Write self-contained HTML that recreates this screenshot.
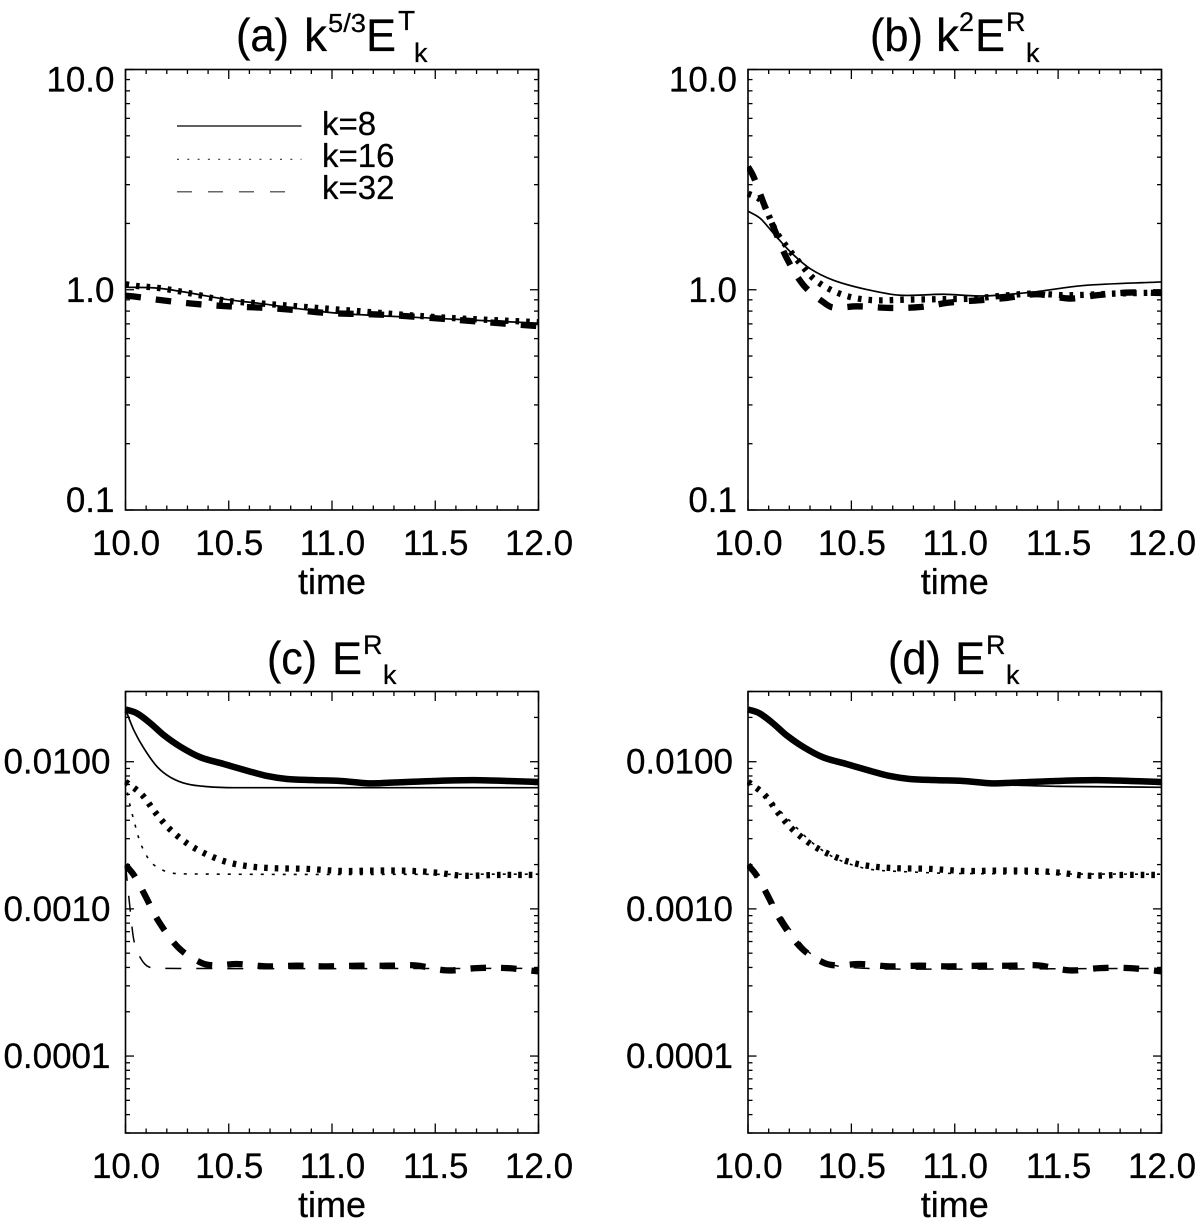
<!DOCTYPE html>
<html lang="en">
<head>
<meta charset="utf-8">
<title>Energy spectra time series</title>
<style>
html,body{margin:0;padding:0;background:#fff;}
svg{display:block;}
text{font-family:"Liberation Sans",sans-serif;fill:#000;stroke:#000;stroke-width:0.25px;}
</style>
</head>
<body>
<svg id="figure" xmlns="http://www.w3.org/2000/svg" width="1200" height="1219" viewBox="0 0 1200 1219">
  <rect x="0" y="0" width="1200" height="1219" fill="#fff"/>
  <g>
    <text x="236" y="51" font-size="46" textLength="53" lengthAdjust="spacingAndGlyphs">(a)</text><text x="304" y="51" font-size="46">k</text><text x="328" y="32" font-size="26" textLength="38" lengthAdjust="spacingAndGlyphs">5/3</text><text x="366" y="51" font-size="45">E</text><text x="398" y="30" font-size="28">T</text><text x="414" y="62" font-size="27">k</text>
  </g>
  <g>
    <text x="870" y="51" font-size="46" textLength="53" lengthAdjust="spacingAndGlyphs">(b)</text><text x="936" y="51" font-size="46">k</text><text x="959" y="31" font-size="27">2</text><text x="975" y="51" font-size="45">E</text><text x="1006" y="31" font-size="27">R</text><text x="1026" y="62" font-size="27">k</text>
  </g>
  <g>
    <text x="267" y="674" font-size="46" textLength="50" lengthAdjust="spacingAndGlyphs">(c)</text><text x="332" y="674" font-size="45">E</text><text x="363" y="654" font-size="27">R</text><text x="383" y="684" font-size="27">k</text>
  </g>
  <g>
    <text x="888" y="674" font-size="46" textLength="53" lengthAdjust="spacingAndGlyphs">(d)</text><text x="955" y="674" font-size="45">E</text><text x="986" y="654" font-size="27">R</text><text x="1006" y="684" font-size="27">k</text>
  </g>
  <g>
    <line x1="177" y1="126" x2="301.500" y2="126" stroke="#000" stroke-width="1.200"/>
    <line x1="177" y1="159.300" x2="301.500" y2="159.300" stroke="#333" stroke-width="1.200" stroke-dasharray="2 8.300"/>
    <line x1="177" y1="191.700" x2="287" y2="191.700" stroke="#666" stroke-width="1.500" stroke-dasharray="15 16"/>
    <text x="322" y="135" font-size="33">k=8</text>
    <text x="322" y="167" font-size="33">k=16</text>
    <text x="322" y="199" font-size="33">k=32</text>
  </g>
</svg>
<script>
// Tick labels
var xTickLabels = ['10.0', '10.5', '11.0', '11.5', '12.0'];
var yLabelsTop = ['10.0', '1.0', '0.1'];
var yLabelsBottom = ['0.0100', '0.0010', '0.0001'];

// Panel (a)
var aSolidT = [10, 10.16, 10.32, 10.484, 10.645, 11.017, 11.5, 12];
var aSolidV = [1.027, 1.016, 0.964, 0.905, 0.868, 0.784, 0.742, 0.705];
var aDottedT = [10, 10.056, 10.16, 10.32, 10.484, 10.645, 11.017, 11.5, 12];
var aDottedV = [1.06, 1.04, 1.019, 0.961, 0.893, 0.868, 0.815, 0.752, 0.712];
var aDashedT = [10, 10.032, 10.177, 10.322, 10.5, 10.685, 10.835, 10.976, 11.25, 11.5, 12];
var aDashedV = [0.94, 0.934, 0.896, 0.865, 0.841, 0.827, 0.807, 0.784, 0.77, 0.742, 0.683];

// Panel (b)
var bSolidT = [10, 10.06, 10.124, 10.205, 10.3, 10.414, 10.575, 10.736, 10.945, 11.138, 11.38, 11.62, 12];
var bSolidV = [2.275, 2.106, 1.80, 1.486, 1.248, 1.104, 1.002, 0.944, 0.954, 0.937, 0.977, 1.045, 1.085];
var bDottedT = [10, 10.068, 10.132, 10.188, 10.253, 10.317, 10.398, 10.494, 10.607, 10.768, 10.929, 11.09, 11.219, 11.38, 11.54, 11.78, 12];
var bDottedV = [2.737, 2.507, 1.864, 1.566, 1.315, 1.124, 1.002, 0.928, 0.896, 0.902, 0.906, 0.912, 0.937, 0.961, 0.944, 0.961, 0.971];
var bDashedT = [10, 10.027, 10.076, 10.132, 10.188, 10.269, 10.374, 10.414, 10.527, 10.688, 10.833, 10.977, 11.122, 11.251, 11.396, 11.557, 11.686, 11.839, 12];
var bDashedV = [3.62, 3.26, 2.465, 1.84, 1.387, 1.048, 0.865, 0.83, 0.841, 0.827, 0.835, 0.875, 0.896, 0.918, 0.954, 0.912, 0.944, 0.971, 0.967];

// Panels (c) and (d): thick curves
var thickSolidT = [10, 10.056, 10.121, 10.185, 10.266, 10.363, 10.476, 10.589, 10.685, 10.782, 10.911, 11.04, 11.169, 11.218, 11.33, 11.49, 11.685, 11.847, 12];
var thickSolidV = [0.02267, 0.0213, 0.01823, 0.01517, 0.01264, 0.01071, 0.00965, 0.00869, 0.008, 0.00763, 0.0075, 0.0074, 0.00714, 0.00714, 0.00725, 0.0074, 0.0075, 0.0074, 0.00728];
var thickDottedT = [10, 10.081, 10.145, 10.21, 10.298, 10.387, 10.492, 10.605, 10.718, 10.879, 11.04, 11.2, 11.33, 11.427, 11.524, 11.637, 11.798, 12];
var thickDottedV = [0.00732, 0.00594, 0.00451, 0.00353, 0.00279, 0.00237, 0.00208, 0.00194, 0.00189, 0.00187, 0.00181, 0.00182, 0.00182, 0.0018, 0.00175, 0.00168, 0.0017, 0.0017];
var thickDashedT = [10, 10.04, 10.089, 10.161, 10.258, 10.363, 10.427, 10.54, 10.685, 10.83, 10.976, 11.137, 11.266, 11.403, 11.556, 11.702, 11.847, 12];
var thickDashedV = [0.00199, 0.0017, 0.00128, 0.00082, 0.000542, 0.000433, 0.000413, 0.000422, 0.000407, 0.000411, 0.000407, 0.000411, 0.000411, 0.000413, 0.000382, 0.000396, 0.000396, 0.000376];

// Panel (c): thin curves
var cSolidT = [10, 10.04, 10.089, 10.153, 10.218, 10.298, 10.395, 10.524, 12];
var cSolidV = [0.02267, 0.01641, 0.01233, 0.00925, 0.00783, 0.00706, 0.00677, 0.00666, 0.00666];
var cDottedT = [10, 10.016, 10.04, 10.073, 10.121, 10.185, 10.266, 12];
var cDottedV = [0.00732, 0.0055, 0.00402, 0.00279, 0.0021, 0.00182, 0.00173, 0.00172];
var cDashedT = [10, 10.016, 10.04, 10.073, 10.113, 10.185, 12];
var cDashedV = [0.00199, 0.00121, 0.000617, 0.000463, 0.000403, 0.000394, 0.000394];

// Panel (d): thin curves
var dSolidT = [10, 10.1, 10.2, 10.3, 10.4, 10.5, 10.6, 10.7, 10.8, 11, 11.2, 11.5, 12];
var dSolidV = [0.0226, 0.019, 0.0153, 0.0122, 0.0104, 0.0095, 0.0086, 0.0079, 0.0075, 0.0072, 0.007, 0.0068, 0.0067];
var dDottedT = [10, 10.1, 10.2, 10.3, 10.4, 10.5, 10.6, 10.8, 11, 12];
var dDottedV = [0.0073, 0.0055, 0.004, 0.0029, 0.0023, 0.002, 0.00185, 0.00178, 0.00174, 0.00172];
var dDashedT = [10, 10.1, 10.2, 10.3, 10.4, 10.5, 10.7, 12];
var dDashedV = [0.00199, 0.00125, 0.00074, 0.0005, 0.00042, 0.0004, 0.00039, 0.000394];

var NS = 'http://www.w3.org/2000/svg';
var svg = document.getElementById('figure');

function make(tag, attrs, parent) {
  var el = document.createElementNS(NS, tag);
  for (var k in attrs) { el.setAttribute(k, attrs[k]); }
  parent.appendChild(el);
  return el;
}

function smoothPath(pts) {
  var d = 'M' + pts[0][0].toFixed(2) + ' ' + pts[0][1].toFixed(2);
  for (var i = 0; i < pts.length - 1; i++) {
    var p0 = pts[Math.max(i - 1, 0)], p1 = pts[i], p2 = pts[i + 1], p3 = pts[Math.min(i + 2, pts.length - 1)];
    var seg = p2[0] - p1[0];
    var m1 = (p2[1] - p0[1]) / ((p2[0] - p0[0]) || 1);
    var m2 = (p3[1] - p1[1]) / ((p3[0] - p1[0]) || 1);
    d += 'C' + (p1[0] + seg / 3).toFixed(2) + ' ' + (p1[1] + m1 * seg / 3).toFixed(2) + ' ' +
      (p2[0] - seg / 3).toFixed(2) + ' ' + (p2[1] - m2 * seg / 3).toFixed(2) + ' ' +
      p2[0].toFixed(2) + ' ' + p2[1].toFixed(2);
  }
  return d;
}

var STYLES = {
  thickSolid: { w: 6.5, dash: 'none' },
  thickDotted: { w: 6.3, dash: '3.6 7' },
  thickDashed: { w: 6.3, dash: '15.5 15' },
  thinSolid: { w: 1.7, dash: 'none' },
  thinDotted: { w: 1.6, dash: '3 8' },
  thinDashed: { w: 1.5, dash: '16 15' }
};

function drawPanel(cfg) {
  var g = make('g', {}, svg);
  
  

  function xScale(t) { return cfg.left + (t - 10) / 2 * (cfg.right - cfg.left); }
  function yScale(v) {
    return cfg.bottom - (Math.log10(v) - Math.log10(cfg.vMin)) /
      (Math.log10(cfg.vMax) - Math.log10(cfg.vMin)) * (cfg.bottom - cfg.top);
  }

  var clip = make('clipPath', { id: 'clip-' + cfg.id }, g);
  make('rect', { x: cfg.left - 1, y: cfg.top, width: cfg.right - cfg.left + 1.5, height: cfg.bottom - cfg.top }, clip);

  // curves
  cfg.series.forEach(function (s) {
    var st = STYLES[s.style];
    var pts = s.t.map(function (t, i) { return [xScale(t), yScale(s.v[i])]; });
    var p = make('path', {
      d: smoothPath(pts), fill: 'none', stroke: '#000',
      'stroke-width': st.w, 'stroke-dasharray': st.dash,
      'clip-path': 'url(#clip-' + cfg.id + ')'
    }, g);
    
    
  });

  // frame
  var frame = make('rect', {
    x: cfg.left, y: cfg.top, width: cfg.right - cfg.left, height: cfg.bottom - cfg.top,
    fill: 'none', stroke: '#000', 'stroke-width': 1.6
  }, g);
  
  

  // x ticks
  var xAxis = make('g', { stroke: '#000', 'stroke-width': 1.3 }, g);
  
  
  for (var i = 0; i <= 20; i++) {
    var tv = 10 + i * 0.1;
    var len = i % 5 === 0 ? 9.5 : 4.5;
    var px = xScale(tv);
    make('line', { x1: px, x2: px, y1: cfg.bottom, y2: cfg.bottom - len }, xAxis);
    make('line', { x1: px, x2: px, y1: cfg.top, y2: cfg.top + len }, xAxis);
  }

  // y ticks
  var yAxis = make('g', { stroke: '#000', 'stroke-width': 1.3 }, g);
  
  
  var eMin = Math.floor(Math.log10(cfg.vMin) + 1e-9), eMax = Math.ceil(Math.log10(cfg.vMax) - 1e-9);
  for (var e = eMin; e <= eMax; e++) {
    for (var m = 1; m <= 9; m++) {
      var val = m * Math.pow(10, e);
      if (val < cfg.vMin * 0.999 || val > cfg.vMax * 1.001) { continue; }
      var py = yScale(val);
      var l = m === 1 ? 8.5 : 4.5;
      make('line', { x1: cfg.left, x2: cfg.left + l, y1: py, y2: py }, yAxis);
      make('line', { x1: cfg.right, x2: cfg.right - l, y1: py, y2: py }, yAxis);
    }
  }

  // x labels
  xTickLabels.forEach(function (label) {
    var t = make('text', { x: xScale(parseFloat(label)) + 0.5, y: cfg.bottom + 45, 'font-size': 35, 'text-anchor': 'middle' }, g);
    t.textContent = label;
    
    
  });

  // y labels
  cfg.yLabels.forEach(function (label) {
    var cy = yScale(parseFloat(label));
    cy = Math.max(cfg.top + 10, Math.min(cfg.bottom - 10, cy));
    var t = make('text', { x: cfg.left - cfg.labelGap, y: cy + 12, 'font-size': 35, 'text-anchor': 'end' }, g);
    t.textContent = label;
    
    
  });

  // x title
  var xt = make('text', { x: (cfg.left + cfg.right) / 2, y: cfg.bottom + 84, 'font-size': 36, 'text-anchor': 'middle' }, g);
  xt.textContent = 'time';
  
  
}

drawPanel({
  id: 'a', left: 125.5, right: 538.5, top: 69.5, bottom: 510, vMin: 0.1, vMax: 10,
  yLabels: yLabelsTop, labelGap: 11,
  series: [
    { name: 'k8', style: 'thinSolid', t: aSolidT, v: aSolidV },
    { name: 'k16', style: 'thickDotted', t: aDottedT, v: aDottedV },
    { name: 'k32', style: 'thickDashed', t: aDashedT, v: aDashedV }
  ]
});
drawPanel({
  id: 'b', left: 748, right: 1161.5, top: 69.5, bottom: 510, vMin: 0.1, vMax: 10,
  yLabels: yLabelsTop, labelGap: 11,
  series: [
    { name: 'k8', style: 'thinSolid', t: bSolidT, v: bSolidV },
    { name: 'k16', style: 'thickDotted', t: bDottedT, v: bDottedV },
    { name: 'k32', style: 'thickDashed', t: bDashedT, v: bDashedV }
  ]
});
drawPanel({
  id: 'c', left: 125.5, right: 538.5, top: 691.5, bottom: 1133, vMin: 0.00003, vMax: 0.03,
  yLabels: yLabelsBottom, labelGap: 15,
  series: [
    { name: 'k8-thin', style: 'thinSolid', t: cSolidT, v: cSolidV },
    { name: 'k16-thin', style: 'thinDotted', t: cDottedT, v: cDottedV },
    { name: 'k32-thin', style: 'thinDashed', t: cDashedT, v: cDashedV },
    { name: 'k8-thick', style: 'thickSolid', t: thickSolidT, v: thickSolidV },
    { name: 'k16-thick', style: 'thickDotted', t: thickDottedT, v: thickDottedV },
    { name: 'k32-thick', style: 'thickDashed', t: thickDashedT, v: thickDashedV }
  ]
});
drawPanel({
  id: 'd', left: 748, right: 1161.5, top: 691.5, bottom: 1133, vMin: 0.00003, vMax: 0.03,
  yLabels: yLabelsBottom, labelGap: 15,
  series: [
    { name: 'k8-thin', style: 'thinSolid', t: dSolidT, v: dSolidV },
    { name: 'k16-thin', style: 'thinDotted', t: dDottedT, v: dDottedV },
    { name: 'k32-thin', style: 'thinDashed', t: dDashedT, v: dDashedV },
    { name: 'k8-thick', style: 'thickSolid', t: thickSolidT, v: thickSolidV },
    { name: 'k16-thick', style: 'thickDotted', t: thickDottedT, v: thickDottedV },
    { name: 'k32-thick', style: 'thickDashed', t: thickDashedT, v: thickDashedV }
  ]
});
</script>
</body>
</html>
